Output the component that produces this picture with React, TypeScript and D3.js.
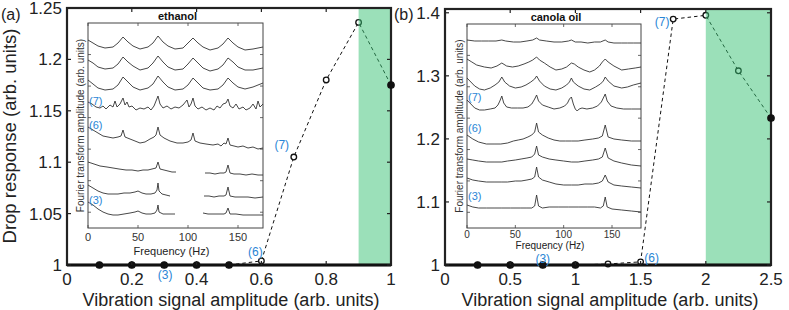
import React from "react";
import * as d3 from "d3";

// ---------- main panels data ----------
const ethanolAmp = [0.1, 0.2, 0.3, 0.4, 0.5, 0.6, 0.7, 0.8, 0.9, 1.0];
const ethanolResp = [1, 1, 1, 1, 1, 1.004, 1.105, 1.18, 1.236, 1.175];
const ethanolMarker = ["f", "f", "f", "f", "f", "o", "o", "o", "o", "f"];
const ethanolXTicks = [0, 0.2, 0.4, 0.6, 0.8, 1];
const ethanolXTickLabels = ["0", "0.2", "0.4", "0.6", "0.8", "1"];
const ethanolYTicks = [1, 1.05, 1.1, 1.15, 1.2, 1.25];
const ethanolYTickLabels = ["1", "1.05", "1.1", "1.15", "1.2", "1.25"];

const canolaAmp = [0.25, 0.5, 0.75, 1.0, 1.25, 1.5, 1.75, 2.0, 2.25, 2.5];
const canolaResp = [1, 1, 1, 1, 1.0016, 1.005, 1.39, 1.396, 1.308, 1.233];
const canolaMarker = ["f", "f", "f", "f", "o", "o", "o", "o", "o", "f"];
const canolaXTicks = [0, 0.5, 1, 1.5, 2, 2.5];
const canolaXTickLabels = ["0", "0.5", "1", "1.5", "2", "2.5"];
const canolaYTicks = [1, 1.1, 1.2, 1.3, 1.4];
const canolaYTickLabels = ["1", "1.1", "1.2", "1.3", "1.4"];

const insetXTicks = [0, 50, 100, 150];
const insetXTickLabels = ["0", "50", "100", "150"];

// ---------- inset spectra (frequency Hz, stacked offset in arb. units; larger = lower) ----------
const scallopFreq = [0, 5, 10, 17, 25, 30, 35, 40, 45, 52, 60, 65, 70, 75, 80, 87, 95, 100, 105, 110, 115, 122, 130, 135, 140, 145, 150, 157, 165, 170, 175];
const ethanol1 = [40, 43, 46, 48, 47, 43, 37, 42, 46, 49, 47, 43, 36, 42, 46, 49, 48, 43, 38, 43, 47, 50, 48, 44, 38, 43, 47, 50, 49, 48, 47];
const ethanol2 = [60, 63, 67, 69, 68, 64, 57, 62, 66, 70, 68, 63, 56, 62, 67, 70, 69, 64, 58, 63, 68, 71, 69, 65, 58, 62, 67, 70, 70, 69, 68];
const ethanol3 = [80, 84, 88, 90, 89, 85, 77, 82, 87, 90, 88, 84, 76, 82, 87, 90, 89, 85, 78, 83, 88, 90, 89, 85, 78, 83, 87, 89, 87, 85, 83];
const ethanol4: [number, number][] = [[0,102],[4,104],[8,107],[12,108],[15,106],[18,109],[22,105],[25,107],[27,101],[29,107],[32,104],[35,98],[37,105],[39,102],[41,107],[44,106],[48,110],[52,108],[56,109],[60,107],[63,110],[66,106],[70,96],[72,104],[75,108],[79,106],[83,109],[87,107],[91,108],[95,105],[99,100],[101,107],[103,104],[105,98],[107,106],[110,109],[114,107],[118,110],[122,108],[126,110],[129,106],[132,108],[135,104],[138,103],[140,99],[142,106],[145,108],[148,104],[151,109],[155,107],[158,110],[162,108],[165,104],[168,109],[170,101],[172,107],[175,104]];
const ethanol5: [number, number][] = [[0,127],[5,130],[10,133],[15,136],[20,137],[25,138],[30,137],[33,136],[35,130],[37,137],[42,139],[47,141],[52,143],[57,142],[62,139],[66,137],[68,135],[70,127],[72,135],[76,138],[82,141],[89,143],[95,143],[100,142],[103,140],[105,133],[107,141],[112,143],[118,144],[125,145],[130,144],[133,146],[136,143],[138,144],[140,138],[142,145],[146,146],[150,147],[155,146],[160,148],[165,147],[170,149],[175,148]];
const ethanol6a: [number, number][] = [[0,162],[6,164],[12,166],[19,167],[25,168],[31,169],[38,170],[44,170],[50,171],[55,170],[60,170],[64,169],[68,168],[70,162],[72,169],[76,170],[80,171],[84,172],[88,172]];
const ethanol6b: [number, number][] = [[117,173],[122,173],[127,174],[132,173],[136,173],[138,172],[140,165],[142,173],[146,174],[152,174],[158,175],[164,174],[170,175],[175,175]];
const ethanol7a: [number, number][] = [[0,185],[5,188],[10,191],[15,193],[20,194],[25,194],[30,194],[36,193],[42,193],[47,192],[50,191],[54,193],[58,194],[63,194],[67,193],[69,190],[70,183],[71,191],[74,194],[78,195],[82,196]];
const ethanol7b: [number, number][] = [[116,196],[121,196],[126,197],[131,196],[136,196],[138,195],[140,187],[142,196],[147,197],[153,197],[160,197],[167,198],[175,197]];
const ethanol8a: [number, number][] = [[0,202],[5,205],[10,209],[15,212],[20,214],[25,215],[30,215],[36,214],[42,213],[47,212],[50,211],[54,213],[58,214],[63,214],[67,213],[69,210],[70,205],[71,212],[75,214],[80,214],[87,214]];
const ethanol8b: [number, number][] = [[115,213],[120,214],[126,214],[132,214],[136,214],[138,213],[140,208],[142,214],[148,214],[155,215],[162,215],[170,215],[175,215]];

const canola1: [number, number][] = [[0,40],[8,41],[15,41],[22,41],[30,41],[36,40],[40,41],[48,42],[55,42],[62,41],[68,40],[72,38],[75,40],[82,41],[90,42],[98,42],[105,41],[108,40],[112,42],[118,42],[125,43],[132,42],[138,42],[143,40],[146,42],[152,43],[160,43],[166,43],[172,43],[180,43]];
const canola2: [number, number][] = [[0,59],[5,62],[10,65],[18,67],[25,68],[31,66],[36,63],[41,66],[47,67],[53,66],[59,64],[64,62],[68,60],[72,57],[75,60],[80,63],[86,67],[92,70],[98,69],[103,67],[108,63],[111,64],[115,67],[121,70],[127,72],[132,70],[137,66],[140,62],[143,59],[146,62],[152,66],[160,70],[167,69],[174,68],[180,67]];
const canola3: [number, number][] = [[0,78],[4,82],[8,86],[13,89],[18,90],[24,88],[29,85],[33,82],[36,77],[39,82],[44,86],[50,88],[56,87],[61,85],[66,82],[70,79],[72,76],[75,81],[80,86],[86,89],[92,90],[98,88],[103,85],[106,82],[108,78],[110,82],[115,86],[121,89],[127,90],[133,87],[138,84],[141,81],[143,77],[146,81],[152,86],[160,88],[166,87],[172,85],[180,83]];
const canola4: [number, number][] = [[0,100],[4,104],[8,108],[13,110],[18,110],[24,109],[29,108],[32,105],[34,101],[36,96],[38,103],[41,107],[46,108],[52,108],[58,108],[63,107],[67,104],[70,99],[72,95],[74,101],[78,105],[84,107],[90,109],[96,108],[101,106],[104,103],[106,99],[108,97],[110,104],[112,109],[114,111],[116,109],[119,108],[124,109],[130,108],[135,106],[139,102],[141,98],[143,94],[145,101],[149,106],[155,108],[162,109],[170,109],[180,109]];
const canola5: [number, number][] = [[0,135],[6,139],[12,142],[20,144],[28,144],[35,144],[42,143],[48,141],[53,140],[58,139],[63,137],[67,135],[70,132],[72,123],[74,132],[78,135],[84,138],[90,140],[96,141],[102,141],[108,141],[115,141],[122,140],[130,139],[136,138],[140,136],[143,125],[146,137],[152,139],[160,140],[170,141],[180,141]];
const canola6: [number, number][] = [[0,159],[6,160],[12,161],[20,162],[28,162],[36,162],[42,161],[50,160],[56,159],[62,158],[67,157],[70,154],[72,146],[74,155],[78,157],[85,159],[92,160],[100,161],[108,162],[115,162],[122,161],[130,160],[136,159],[140,157],[143,148],[146,158],[152,161],[160,163],[170,165],[180,166]];
const canola7: [number, number][] = [[0,178],[6,180],[12,181],[20,182],[28,182],[36,182],[42,182],[50,181],[56,181],[62,180],[67,179],[70,177],[72,167],[74,177],[78,180],[85,182],[92,184],[100,185],[108,185],[115,185],[122,184],[130,184],[136,183],[140,181],[143,175],[146,182],[152,185],[160,186],[170,187],[180,188]];
const canola8: [number, number][] = [[0,205],[6,207],[12,208],[20,208],[28,208],[36,208],[45,208],[55,208],[62,208],[67,208],[70,206],[72,195],[74,206],[78,208],[85,207],[95,207],[105,207],[115,207],[125,207],[132,207],[138,208],[141,206],[143,197],[145,207],[150,209],[160,210],[170,211],[180,212]];

const zipF = (f: number[], v: number[]): [number, number][] => f.map((x, i) => [x, v[i]]);

const ethanolTraces: [number, number][][][] = [
  [zipF(scallopFreq, ethanol1)],
  [zipF(scallopFreq, ethanol2)],
  [zipF(scallopFreq, ethanol3)],
  [ethanol4],
  [ethanol5],
  [ethanol6a, ethanol6b],
  [ethanol7a, ethanol7b],
  [ethanol8a, ethanol8b],
];
const canolaTraces: [number, number][][][] = [
  [canola1], [canola2], [canola3], [canola4], [canola5], [canola6], [canola7], [canola8],
];
// which traces are labelled (trace index -> label)
const insetLabelIdx = [3, 4, 7];
const insetLabelText = ["(7)", "(6)", "(3)"];

const FONT = "'Liberation Sans', Arial, Helvetica, sans-serif";
const BLUE = "#2a86d6";
const BAND_FILL = "rgb(55,193,115)";

interface InsetCfg {
  left: number; right: number; top: number; bottom: number; fmax: number; title: string;
  traces: [number, number][][][]; labelDy: number[]; freqDy: number; tickDy: number; tickFont: number; freqFont: number;
}

interface PanelProps {
  xs: number[]; ys: number[]; markers: string[];
  xDomain: [number, number]; yDomain: [number, number];
  left: number; right: number; top: number; bottom: number;
  xTicks: number[]; xTickLabels: string[]; yTicks: number[]; yTickLabels: string[];
  band: [number, number];
  letter: string; letterX: number;
  ptLabels: { i: number; text: string; dx: number; dy: number }[];
  inset: InsetCfg;
  showYLabel: boolean;
}

function Inset({ cfg }: { cfg: InsetCfg }) {
  const x = d3.scaleLinear().domain([0, cfg.fmax]).range([cfg.left, cfg.right]);
  const y = d3.scaleLinear().domain([23, 228]).range([23, 228]);
  const line = d3.line<[number, number]>().x((d) => x(d[0])).y((d) => y(d[1]));
  const yTickPos = d3.range(6).map((i) => cfg.top + ((cfg.bottom - cfg.top) * (i + 1)) / 6.5);
  const cx = (cfg.left + cfg.right) / 2;
  return (
    <g>
      <rect x={cfg.left} y={cfg.top} width={cfg.right - cfg.left} height={cfg.bottom - cfg.top} fill="#fff" stroke="#444" strokeWidth={1} />
      {insetXTicks.map((t) => (
        <g key={t}>
          <line x1={x(t)} x2={x(t)} y1={cfg.bottom} y2={cfg.bottom - 3} stroke="#444" strokeWidth={0.8} />
          <line x1={x(t)} x2={x(t)} y1={cfg.top} y2={cfg.top + 3} stroke="#444" strokeWidth={0.8} />
        </g>
      ))}
      {yTickPos.map((p, i) => (
        <g key={i}>
          <line x1={cfg.left} x2={cfg.left + 3} y1={p} y2={p} stroke="#444" strokeWidth={0.8} />
          <line x1={cfg.right} x2={cfg.right - 3} y1={p} y2={p} stroke="#444" strokeWidth={0.8} />
        </g>
      ))}
      {cfg.traces.map((segs, ti) =>
        segs.map((seg, si) => (
          <path key={ti + "-" + si} d={line(seg) || ""} fill="none" stroke="#333" strokeWidth={0.9} strokeLinejoin="round" />
        ))
      )}
      {insetLabelIdx.map((ti, k) => (
        <text key={k} x={cfg.left + 1} y={y(cfg.traces[ti][0][0][1]) + cfg.labelDy[k]} fontFamily={FONT} fontSize={11} fill={BLUE}>
          {insetLabelText[k]}
        </text>
      ))}
      {insetXTicks.map((t, i) => (
        <text key={t} x={x(t)} y={cfg.bottom + cfg.tickDy} textAnchor="middle" fontFamily={FONT} fontSize={cfg.tickFont} fill="#333">
          {insetXTickLabels[i]}
        </text>
      ))}
      <text x={cx - 4} y={cfg.bottom + cfg.freqDy} textAnchor="middle" fontFamily={FONT} fontSize={cfg.freqFont} fill="#222">Frequency (Hz)</text>
      <text x={cx + 2} y={cfg.top - 3} textAnchor="middle" fontFamily={FONT} fontSize={11} fontWeight="bold" fill="#111">{cfg.title}</text>
      <text transform={`translate(${cfg.left - 4},${(cfg.top + cfg.bottom) / 2}) rotate(-90)`} textAnchor="middle" fontFamily={FONT} fontSize={10} fill="#333">
        Fourier transform amplitude (arb. units)
      </text>
    </g>
  );
}

function Panel(p: PanelProps) {
  const x = d3.scaleLinear().domain(p.xDomain).range([p.left, p.right]);
  const y = d3.scaleLinear().domain(p.yDomain).range([p.bottom, p.top]);
  const pts: [number, number][] = p.xs.map((v, i) => [v, p.ys[i]]);
  const line = d3.line<[number, number]>().x((d) => x(d[0])).y((d) => y(d[1]));
  const edge = pts[pts.length - 1];
  return (
    <g>
      <Inset cfg={p.inset} />
      <path d={line(pts) || ""} fill="none" stroke="#111" strokeWidth={1} strokeDasharray="3.5,3" />
      {pts.map((d, i) =>
        i === pts.length - 1 ? null : (
          <circle key={i} cx={x(d[0])} cy={y(d[1])} r={p.markers[i] === "f" ? 3.2 : 2.8}
            fill={p.markers[i] === "f" ? "#111" : "#fff"} stroke="#111" strokeWidth={1.3} />
        )
      )}
      <rect x={x(p.band[0])} y={p.top} width={x(p.band[1]) - x(p.band[0])} height={p.bottom - p.top} fill={BAND_FILL} fillOpacity={0.5} />
      {/* frame */}
      <rect x={p.left} y={p.top} width={p.right - p.left} height={p.bottom - p.top} fill="none" stroke="#222" strokeWidth={2.2} />
      <line x1={p.left} x2={p.right} y1={p.bottom} y2={p.bottom} stroke="#111" strokeWidth={3} />
      {p.xTicks.map((t) => (
        <g key={t}>
          <line x1={x(t)} x2={x(t)} y1={p.bottom} y2={p.bottom - 4} stroke="#222" strokeWidth={1.2} />
          <line x1={x(t)} x2={x(t)} y1={p.top} y2={p.top + 4} stroke="#222" strokeWidth={1.2} />
        </g>
      ))}
      {p.yTicks.map((t) => (
        <g key={t}>
          <line x1={p.left} x2={p.left + 4} y1={y(t)} y2={y(t)} stroke="#222" strokeWidth={1.2} />
          <line x1={p.right} x2={p.right - 4} y1={y(t)} y2={y(t)} stroke="#222" strokeWidth={1.2} />
        </g>
      ))}
      <circle cx={x(edge[0])} cy={y(edge[1])} r={3.2} fill="#111" stroke="#111" strokeWidth={1.3} />
      {p.ptLabels.map((l, k) => (
        <text key={k} x={x(pts[l.i][0]) + l.dx} y={y(pts[l.i][1]) + l.dy + 4} textAnchor="middle" fontFamily={FONT} fontSize={12} fill={BLUE}>
          {l.text}
        </text>
      ))}
      {p.xTicks.map((t, i) => (
        <text key={t} x={x(t)} y={p.bottom + 20} textAnchor="middle" fontFamily={FONT} fontSize={17} fill="#222">
          {p.xTickLabels[i]}
        </text>
      ))}
      {p.yTicks.map((t, i) => (
        <text key={t} x={p.left - 5} y={y(t) + 6} textAnchor="end" fontFamily={FONT} fontSize={17} fill="#222">
          {p.yTickLabels[i]}
        </text>
      ))}
      <text x={(p.left + p.right) / 2 + 2} y={p.bottom + 41} textAnchor="middle" fontFamily={FONT} fontSize={18} fill="#222">
        Vibration signal amplitude (arb. units)
      </text>
      <text x={p.letterX} y={20} fontFamily={FONT} fontSize={16} fill="#222">{p.letter}</text>
      {p.showYLabel && (
        <text transform={`translate(16,${136}) rotate(-90)`} textAnchor="middle" fontFamily={FONT} fontSize={18.5} fill="#222">
          Drop response (arb. units)
        </text>
      )}
    </g>
  );
}

export default function App() {
  return (
    <svg width={789} height={310} style={{ position: "absolute", left: 0, top: 0, background: "#fff" }}>
      <rect x={0} y={0} width={789} height={310} fill="#fff" />
      <Panel
        xs={ethanolAmp} ys={ethanolResp} markers={ethanolMarker}
        xDomain={[0, 1]} yDomain={[1, 1.25]}
        left={67} right={391} top={8} bottom={265}
        xTicks={ethanolXTicks} xTickLabels={ethanolXTickLabels}
        yTicks={ethanolYTicks} yTickLabels={ethanolYTickLabels}
        band={[0.9, 1.0]} letter="(a)" letterX={1}
        ptLabels={[{ i: 2, text: "(3)", dx: 1, dy: 10 }, { i: 5, text: "(6)", dx: -6, dy: -9 }, { i: 6, text: "(7)", dx: -12, dy: -12 }]}
        inset={{ left: 88, right: 263, top: 23, bottom: 228, fmax: 175, title: "ethanol", traces: ethanolTraces, labelDy: [3, 2, 2], freqDy: 27, tickDy: 13, tickFont: 11, freqFont: 11 }}
        showYLabel={true}
      />
      <Panel
        xs={canolaAmp} ys={canolaResp} markers={canolaMarker}
        xDomain={[0, 2.5]} yDomain={[1, 1.406]}
        left={445} right={771} top={9} bottom={265}
        xTicks={canolaXTicks} xTickLabels={canolaXTickLabels}
        yTicks={canolaYTicks} yTickLabels={canolaYTickLabels}
        band={[2.0, 2.5]} letter="(b)" letterX={394}
        ptLabels={[{ i: 2, text: "(3)", dx: 0, dy: -6 }, { i: 5, text: "(6)", dx: 11, dy: -4 }, { i: 6, text: "(7)", dx: -11, dy: 3 }]}
        inset={{ left: 467, right: 641, top: 24, bottom: 228, fmax: 180, title: "canola oil", traces: canolaTraces, labelDy: [1, -3, -5], freqDy: 21, tickDy: 9.5, tickFont: 10, freqFont: 10 }}
        showYLabel={false}
      />
    </svg>
  );
}
